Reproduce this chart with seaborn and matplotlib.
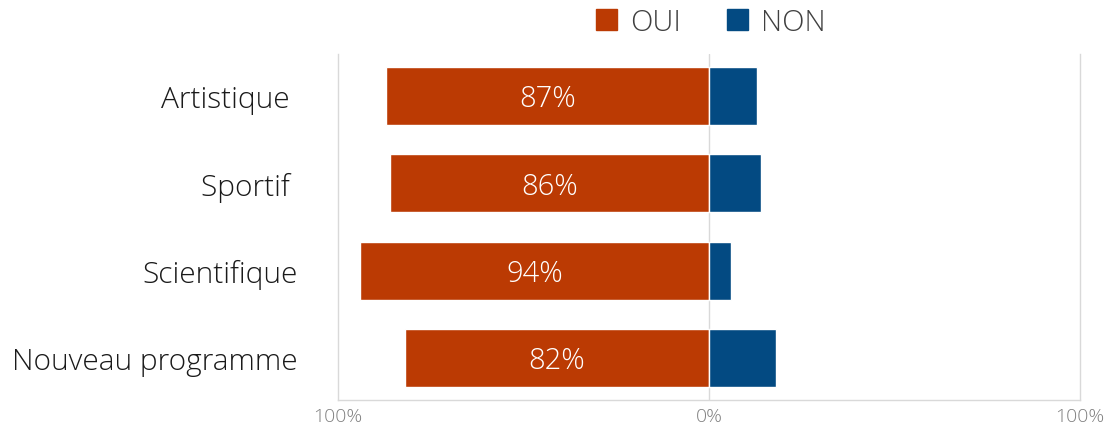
import numpy as np
import pandas as pd
import matplotlib
matplotlib.use("Agg")
import matplotlib.pyplot as plt
import seaborn as sns
from matplotlib.patches import Patch

categories = ["Artistique ", "Sportif ", "Scientifique", "Nouveau programme"]
oui = [87, 86, 94, 82]
non = [13, 14, 6, 18]

sns.set_style("white")
plt.rcParams['font.family'] = ['Open Sans', 'DejaVu Sans']

df = pd.DataFrame({"cat": categories, "oui": [-v for v in oui], "non": non})

fig = plt.figure(figsize=(11.16, 4.31), dpi=100)
ax = fig.add_axes([338 / 1116, 30 / 431, 742 / 1116, 346 / 431])

c_oui = "#BB3A03"
c_non = "#034A82"
sns.barplot(data=df, y="cat", x="oui", color=c_oui, orient="h", width=0.66,
            saturation=1, ax=ax)
sns.barplot(data=df, y="cat", x="non", color=c_non, orient="h", width=0.66,
            saturation=1, ax=ax)

for i, v in enumerate(oui):
    ax.text(-v / 2, i + 0.03, f"{v}%", color="white", ha="center", va="center",
            fontsize=21, fontweight="light")

ax.set_xlim(-100, 100)
ax.set_ylim(3.48, -0.48)
ax.set_xticks([-100, 0, 100])
ax.set_xticklabels(["100%", "0%", "100%"])
ax.tick_params(axis="x", colors="#808080", labelsize=14, length=0, pad=5)
ax.tick_params(axis="y", labelsize=21.5, length=0, pad=29, colors="#1a1a1a")
for t in ax.get_yticklabels():
    t.set_fontweight("light")
for t in ax.get_xticklabels():
    t.set_fontweight("light")
ax.set_xlabel("")
ax.set_ylabel("")
ax.axvline(0, color="#d9d9d9", lw=1, zorder=0)

for s in ["left", "right", "bottom"]:
    ax.spines[s].set_color("#d9d9d9")
    ax.spines[s].set_linewidth(1)
ax.spines["top"].set_visible(False)

handles = [Patch(color=c_oui, label="OUI"), Patch(color=c_non, label="NON")]
fig.legend(handles=handles, loc="center", bbox_to_anchor=(711 / 1116, 1 - 23 / 431),
           ncol=2, frameon=False, handlelength=0.7, handleheight=0.7,
           columnspacing=1.6, handletextpad=0.45, labelcolor="#404040",
           prop={"size": 21, "weight": "light"})

fig.savefig("out.png", dpi=100)
